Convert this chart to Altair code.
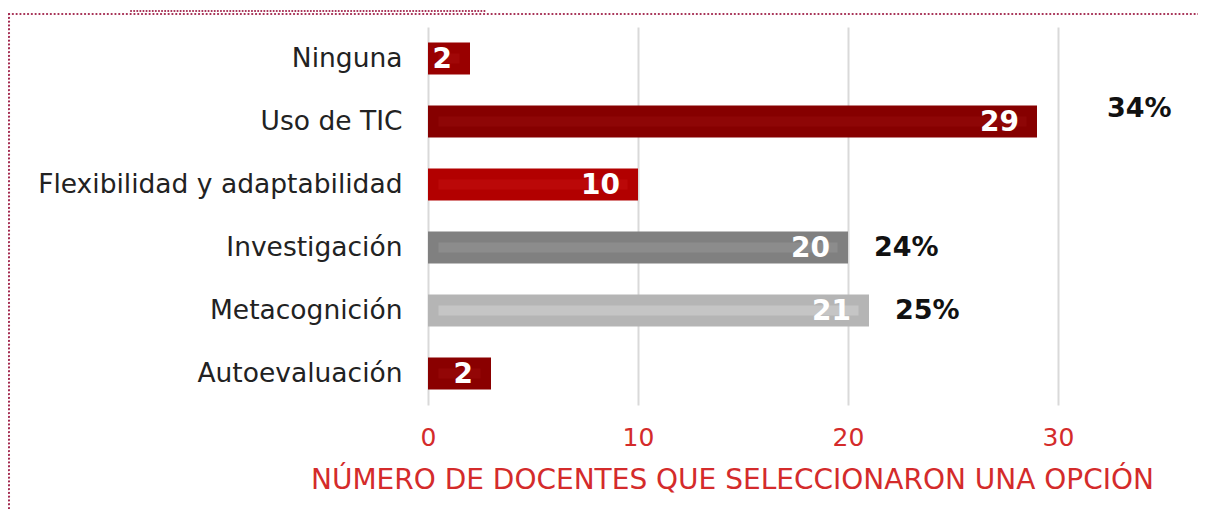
import altair as alt
import pandas as pd

categories = ["Ninguna", "Uso de TIC", "Flexibilidad y adaptabilidad",
              "Investigación", "Metacognición", "Autoevaluación"]
bar_values = [2, 29, 10, 20, 21, 3]
bar_labels = ["2", "29", "10", "20", "21", "2"]
bar_colors = ["#990000", "#860000", "#b20000", "#808080", "#b5b5b5", "#8a0000"]
strip_colors = ["#a10707", "#8e0606", "#bb0808", "#8c8c8c", "#c5c5c5", "#930606"]

pct_categories = ["Uso de TIC", "Investigación", "Metacognición"]
pct_values = [29, 20, 21]
pct_labels = ["34%", "24%", "25%"]

x_ticks = [0, 10, 20, 30]
x_title = "NÚMERO DE DOCENTES QUE SELECCIONARON UNA OPCIÓN"

FONT = "DejaVu Sans"
RED = "#d42b2b"
BORDER = "#a3294f"

df = pd.DataFrame({
    "cat": categories,
    "value": bar_values,
    "label": bar_labels,
    "color": bar_colors,
    "strip": strip_colors,
})
pct_df = pd.DataFrame({"cat": pct_categories, "value": pct_values, "label": pct_labels})

y_enc = alt.Y("cat:N", sort=categories,
              scale=alt.Scale(paddingInner=0.49, paddingOuter=0.245),
              axis=alt.Axis(title=None, ticks=False, domain=False, labelFont=FONT,
                            labelFontSize=26.5, labelColor="#222222", labelPadding=26,
                            grid=False, labelLimit=420))
x_scale = alt.Scale(domain=[0, 36], nice=False)

bars = alt.Chart(df).mark_bar().encode(
    x=alt.X("value:Q", scale=x_scale,
            axis=alt.Axis(values=x_ticks, title=x_title, grid=True, gridColor="#d9d9d9",
                          gridWidth=2, domain=False, ticks=False, labelFont=FONT,
                          labelFontSize=25, labelColor=RED, labelPadding=20,
                          labelFlush=False,
                          titleFont=FONT, titleFontSize=28, titleFontWeight="normal",
                          titleColor=RED, titlePadding=16, titleX=304, titleAlign="center")),
    y=y_enc,
    color=alt.Color("color:N", scale=None),
)

strips = alt.Chart(df).transform_calculate(
    s0="0.5", s1="datum.value - 0.5"
).mark_bar(size=10).encode(
    x=alt.X("s0:Q", scale=x_scale),
    x2="s1:Q",
    y=alt.Y("cat:N", sort=categories),
    color=alt.Color("strip:N", scale=None),
)

bar_text = alt.Chart(df).mark_text(
    align="right", baseline="middle", dx=-18, dy=1, font=FONT, fontSize=28,
    fontWeight="bold", color="white"
).encode(
    x=alt.X("value:Q", scale=x_scale),
    y=alt.Y("cat:N", sort=categories),
    text="label:N",
)

pct_near = alt.Chart(pct_df).transform_filter(
    alt.datum.cat != "Uso de TIC"
).mark_text(
    align="left", baseline="middle", dx=26, font=FONT, fontSize=27,
    fontWeight="bold", color="#111111"
).encode(
    x=alt.X("value:Q", scale=x_scale),
    y=alt.Y("cat:N", sort=categories),
    text="label:N",
)

pct_far = alt.Chart(pct_df).transform_filter(
    alt.datum.cat == "Uso de TIC"
).mark_text(
    align="left", baseline="middle", dx=70, dy=-13, font=FONT, fontSize=27,
    fontWeight="bold", color="#111111"
).encode(
    x=alt.X("value:Q", scale=x_scale),
    y=alt.Y("cat:N", sort=categories),
    text="label:N",
)

border_df = pd.DataFrame({"k": [0]})
top_line = alt.Chart(border_df).mark_rule(
    color=BORDER, strokeWidth=2.2, strokeDash=[0.1, 3.7], strokeCap="round"
).encode(x=alt.value(-419), x2=alt.value(780), y=alt.value(-13))
top_line2 = alt.Chart(border_df).mark_rule(
    color=BORDER, strokeWidth=2.0, strokeDash=[0.1, 3.0], strokeCap="round"
).encode(x=alt.value(-297), x2=alt.value(57), y=alt.value(-16))
left_line = alt.Chart(border_df).mark_rule(
    color=BORDER, strokeWidth=2.2, strokeDash=[0.1, 3.7], strokeCap="round"
).encode(x=alt.value(-419), y=alt.value(-13), y2=alt.value(500))

chart = alt.layer(
    bars, strips, bar_text, pct_near, pct_far, top_line, top_line2, left_line
).properties(
    width=756, height=378,
    autosize=alt.AutoSizeParams(type="none"),
    padding={"left": 420, "top": 19, "right": 14, "bottom": 104},
).configure_view(stroke=None)

chart.save("out.html", embed_options={"renderer": "svg", "actions": False})
